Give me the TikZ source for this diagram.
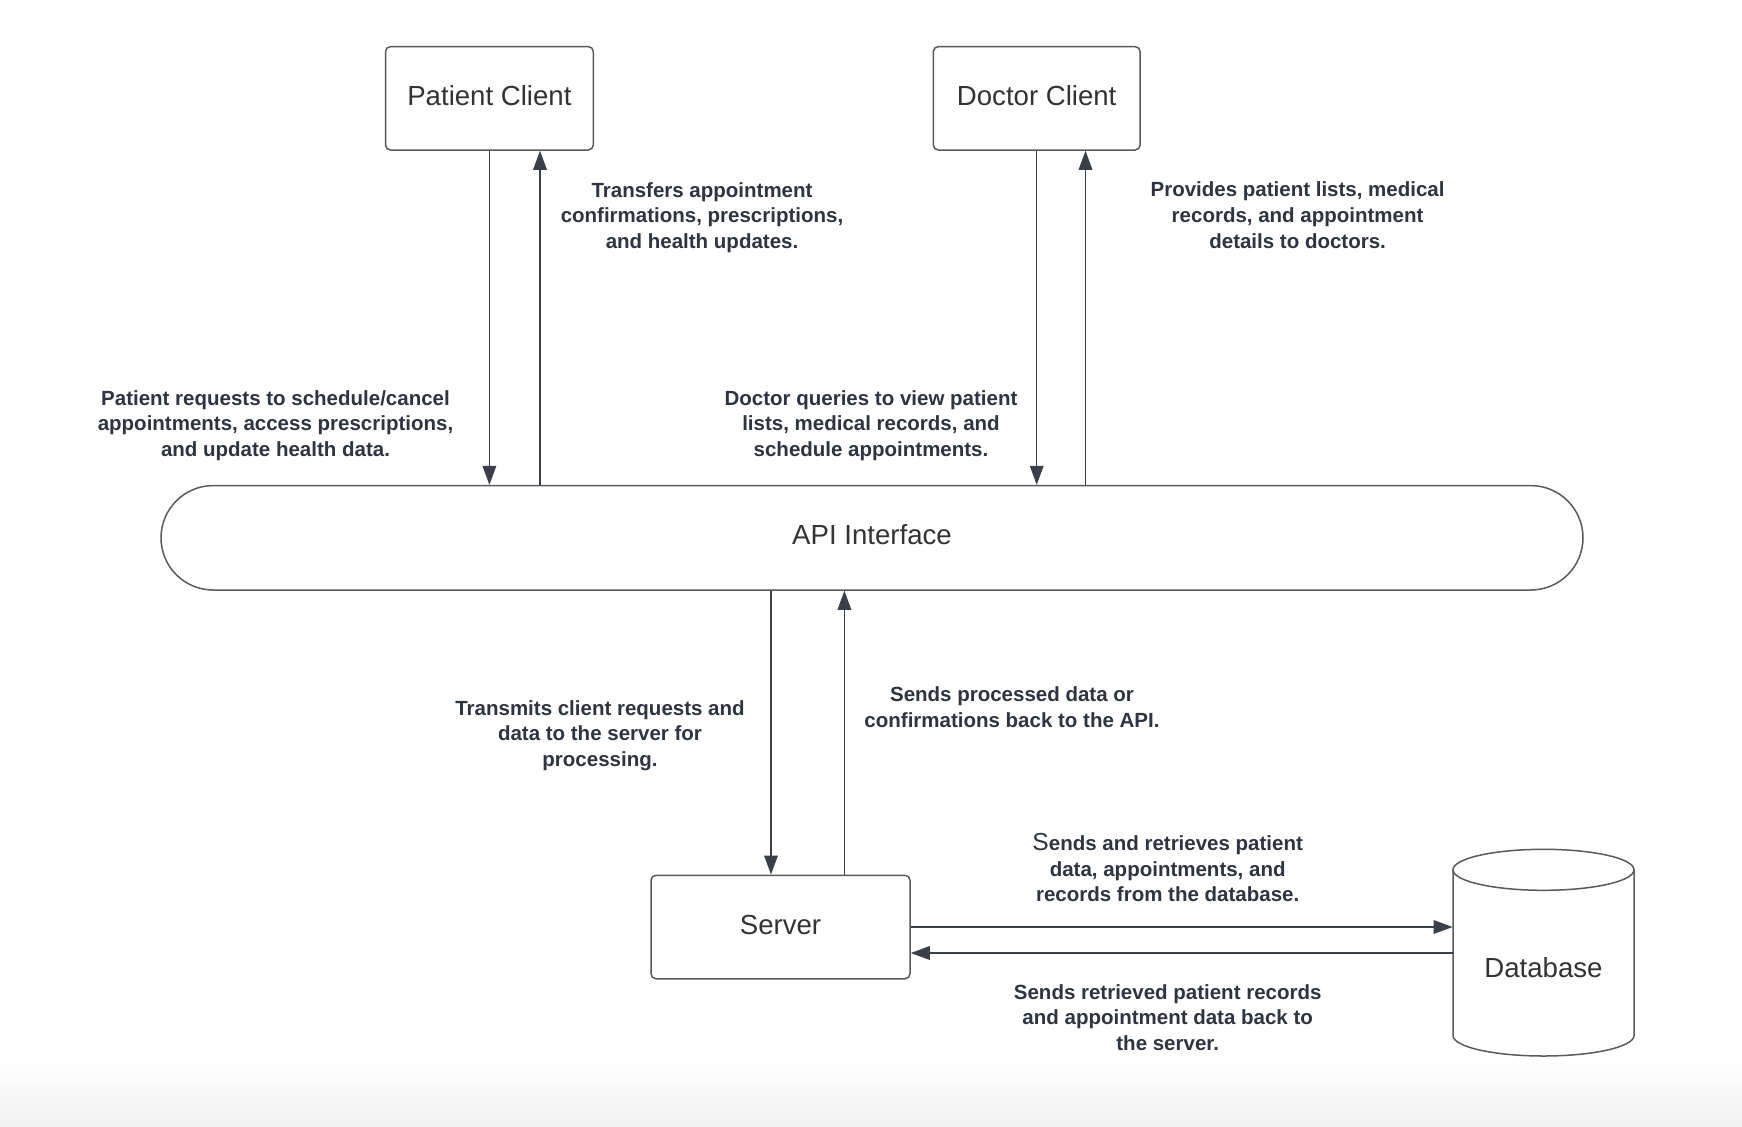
\documentclass[tikz,border=0pt]{standalone}
\usepackage{fontspec}
\setmainfont{Liberation Sans}
\usetikzlibrary{arrows.meta,calc}
\definecolor{txt}{HTML}{2E3440}
\definecolor{ttl}{HTML}{333333}
\definecolor{edge}{HTML}{5A5A5A}
\definecolor{arrc}{HTML}{3A3F4A}
\definecolor{band}{HTML}{F1F1F1}
\tikzset{
  box/.style={draw=edge, line width=0.75pt, rounded corners=2.5pt, fill=white, text=ttl,
    font=\fontsize{13.8}{16}\selectfont, inner sep=0pt, text height=9pt, text depth=2.2pt},
  lbl/.style={text=txt, align=center, inner sep=0pt,
    font=\fontsize{10.25}{12.85}\selectfont\bfseries},
  arr/.style={draw=arrc, line width=0.65pt, -{Triangle[length=9.5pt,width=6.8pt]}},
}
\begin{document}
\begin{tikzpicture}[x=0.5pt,y=-0.5pt]
\useasboundingbox (0,0) rectangle (1742,1126);
\fill[white] (0,0) rectangle (1742,1126);
\shade[top color=white, bottom color=band] (0,1060) rectangle (1742,1126);

% nodes
\node[box, minimum width=103.9pt, minimum height=51.7pt] (pc) at (489.4,98.3) {Patient Client};
\node[box, minimum width=103.4pt, minimum height=51.7pt] (dc) at (1036.7,98.3) {Doctor Client};
\node[box, rounded corners=26.1pt, minimum width=711pt, minimum height=52.2pt] (api) at (872,537.8) {};
\node[text=ttl, font=\fontsize{13.8}{16}\selectfont] (apit) at (872,535) {API Interface};
\node[box, text depth=1.3pt, minimum width=129.5pt, minimum height=51.75pt] (srv) at (780.5,927) {Server};
\node[minimum width=90.5pt, minimum height=103.5pt, inner sep=0pt] (db) at (1543.5,952.5) {};

% database cylinder
\draw[edge, line width=0.75pt, fill=white] (1453,869.8) -- (1453,1035.5)
   arc[start angle=180, end angle=0, x radius=90.5, y radius=20.5] -- (1634,869.8);
\draw[edge, line width=0.75pt, fill=white] (1543.5,869.8) ellipse[x radius=90.5, y radius=20.5];
\node[text=ttl, font=\fontsize{13.8}{16}\selectfont] (dbt) at (1543.5,968) {Database};

% x positions of the return arrows
\coordinate (pu) at (540,0);
\coordinate (du) at (1085.5,0);
\coordinate (sd) at (771,0);
\coordinate (su) at (844.4,0);
\coordinate (lo) at (0,953);

% connectors
\draw[arr] (pc.south) -- (pc.south |- api.north);
\draw[arr] (pu |- api.north) -- (pu |- pc.south);
\draw[arr] (dc.south) -- (dc.south |- api.north);
\draw[arr] (du |- api.north) -- (du |- dc.south);
\draw[arr] (sd |- api.south) -- (sd |- srv.north);
\draw[arr] (su |- srv.north) -- (su |- api.south);
\draw[arr] (srv.east) -- (srv.east -| db.west);
\draw[arr] (db.west |- lo) -- (srv.east |- lo);

% labels
\node[lbl] (l1) at (702,217.5) {Transfers appointment\\confirmations, prescriptions,\\and health updates.};
\node[lbl] (l2) at (1297.6,215) {Provides patient lists, medical\\records, and appointment\\details to doctors.};
\node[lbl] (l3) at (275.5,425.5) {Patient requests to schedule/cancel\\appointments, access prescriptions,\\and update health data.};
\node[lbl] (l4) at (871,425.5) {Doctor queries to view patient\\lists, medical records, and\\schedule appointments.};
\node[lbl] (l5) at (600,735.5) {Transmits client requests and\\data to the server for\\processing.};
\node[lbl] (l6) at (1012,707) {Sends processed data or\\confirmations back to the API.};
\node[lbl] (l7) at (1167.7,867.7) {{\fontsize{12.3}{12.85}\selectfont\mdseries S}ends and retrieves patient\\data, appointments, and\\records from the database.};
\node[lbl] (l8) at (1167.7,1017.6) {Sends retrieved patient records\\and appointment data back to\\the server.};
\end{tikzpicture}
\end{document}
